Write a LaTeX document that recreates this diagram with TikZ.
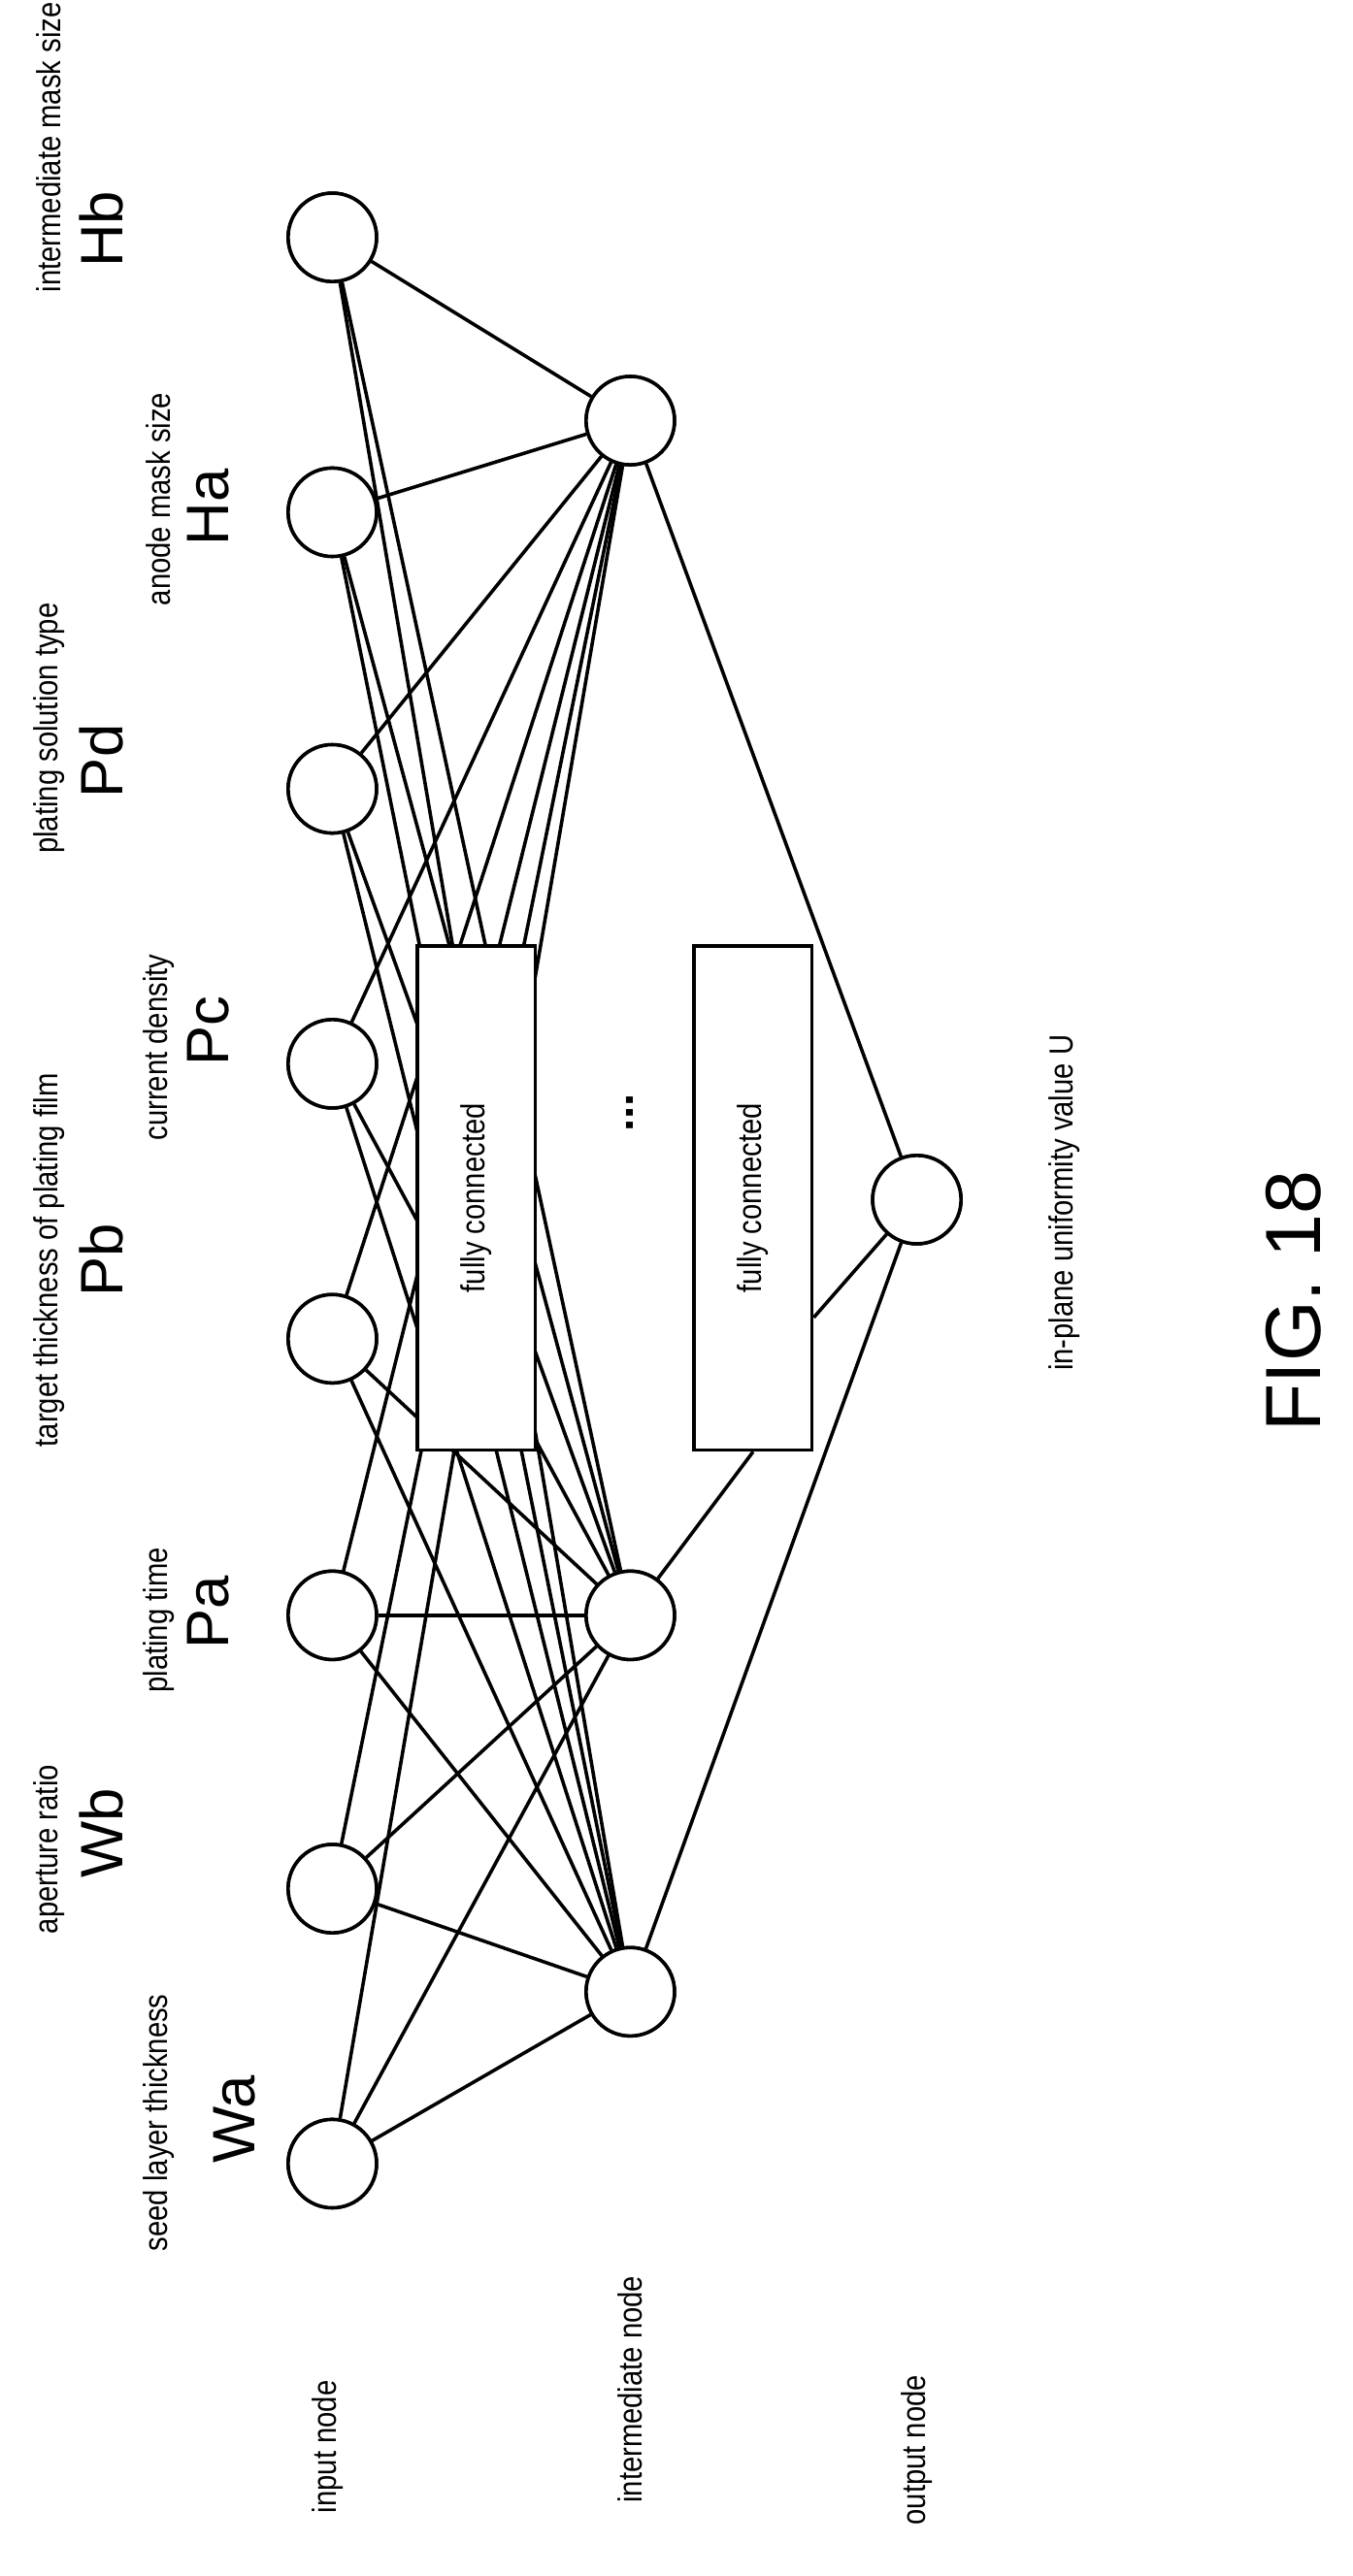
\documentclass[tikz,border=0pt]{standalone}
\usepackage{fontspec}
\setmainfont{Liberation Sans}
\begin{document}
\begin{tikzpicture}[x=0.05cm,y=-0.05cm,
  nd/.style={circle,draw,line width=3pt,fill=white,minimum size=2.7cm,inner sep=0pt},
  bx/.style={draw,line width=3pt,fill=white,minimum width=3.6cm,minimum height=15.4cm,inner sep=0pt},
  ed/.style={line width=3pt},
  sm/.style={rotate=90,font=\fontsize{29}{32}\selectfont,xscale=0.85},
  bg/.style={rotate=90,font=\fontsize{52}{56}\selectfont}]
\useasboundingbox (0,0) rectangle (826,1574);
\foreach \n/\y in {Hb/145,Ha/313,Pd/482,Pc/650,Pb/818,Pa/987,Wb/1154,Wa/1322}
  \node[nd] (\n) at (203,\y) {};
\node[nd] (m1) at (385,257) {};
\node[nd] (m2) at (385,987) {};
\node[nd] (m3) at (385,1217) {};
\node[nd] (o) at (560,733) {};
\foreach \n in {Hb,Ha,Pd,Pc,Pb,Pa,Wb,Wa}
  \foreach \m in {m1,m2,m3}
    \draw[ed] (\n) -- (\m);
\node[bx] (b1) at (291,732) {};
\node[bx] (b2) at (460,732) {};
\node[sm] at (291,732) {fully connected};
\node[sm] at (460,732) {fully connected};
\draw[ed] (m1) -- (o);
\draw[ed] (m3) -- (o);
\draw[ed] (m2) -- (b2.south);
\draw[ed] (b2.east |- 0,805) -- (o);
\node[rotate=90,font=\fontsize{40}{40}\selectfont\bfseries] (dots) at (385,680) {...};
\foreach \n in {Hb,Ha,Pd,Pc,Pb,Pa,Wb,Wa,m1,m2,m3,o} \node[nd] at (\n) {};
\node[sm] at (97,1297) {seed layer thickness};
\node[bg] at (143,1295) {Wa};
\node[sm] at (30,1130) {aperture ratio};
\node[bg] at (62,1120) {Wb};
\node[sm] at (97,990) {plating time};
\node[bg] at (127,985) {Pa};
\node[sm] at (30,770) {target thickness of plating film};
\node[bg] at (62,770) {Pb};
\node[sm] at (97,640) {current density};
\node[bg] at (127,630) {Pc};
\node[sm] at (30,445) {plating solution type};
\node[bg] at (62,465) {Pd};
\node[sm] at (97,305) {anode mask size};
\node[bg] at (127,310) {Ha};
\node[sm] at (30,90) {intermediate mask size};
\node[bg] at (62,140) {Hb};
\node[sm] at (200,1495) {input node};
\node[sm] at (385,1460) {intermediate node};
\node[sm] at (560,1497) {output node};
\node[sm] at (650,735) {in-plane uniformity value U};
\node[rotate=90,font=\fontsize{68}{68}\selectfont] at (790,795) {FIG. 18};
\end{tikzpicture}
\end{document}
